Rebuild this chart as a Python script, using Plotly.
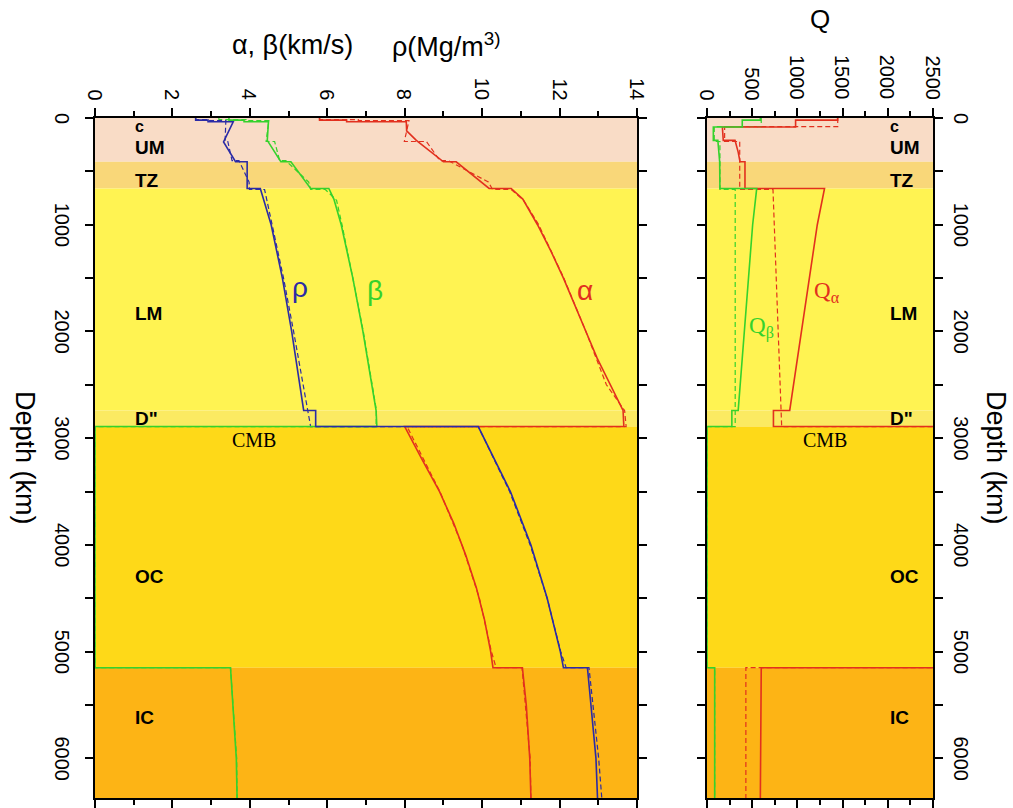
import plotly.graph_objects as go

# ---------------- data ----------------
# Left panel: velocities (km/s) and density (Mg/m^3) vs depth (km)
vp_depth = [0, 20, 20, 35, 35, 120, 210, 310, 410, 410, 560, 660, 660, 760, 1000, 1250, 1500, 1750, 2000, 2250,
            2500, 2740, 2891, 2891, 3200, 3500, 3800, 4100, 4400, 4700, 5000, 5150, 5150, 5500, 6000, 6371]
vp_model = [5.8, 5.8, 6.5, 6.5, 8.04, 8.05, 8.30, 8.66, 9.0, 9.33, 9.84, 10.18, 10.75, 11.05, 11.43, 11.78, 12.10,
            12.40, 12.68, 12.97, 13.32, 13.64, 13.66, 8.0, 8.45, 8.90, 9.27, 9.58, 9.85, 10.06, 10.22, 10.28,
            11.04, 11.14, 11.23, 11.26]
vp_prem_depth = [0, 15, 15, 24.4, 24.4, 80, 220, 220, 400, 400, 600, 670, 670, 771, 1000, 1500, 2000, 2500, 2741,
                 2891, 2891, 3500, 4000, 4500, 5000, 5150, 5150, 6000, 6371]
vp_prem = [5.8, 5.8, 6.8, 6.8, 8.11, 8.08, 7.99, 8.56, 8.91, 9.13, 10.16, 10.27, 10.75, 11.07, 11.46, 12.11, 12.68,
           13.21, 13.68, 13.72, 8.06, 8.91, 9.48, 9.93, 10.24, 10.36, 11.03, 11.24, 11.26]

vs_depth = [0, 20, 20, 35, 35, 120, 210, 410, 410, 660, 660, 760, 1000, 1500, 2000, 2500, 2740, 2891, 2891, 5150,
            5150, 6000, 6371]
vs_model = [3.46, 3.46, 3.85, 3.85, 4.48, 4.47, 4.45, 4.80, 5.06, 5.57, 6.04, 6.17, 6.36, 6.66, 6.92, 7.15, 7.26,
            7.28, 0.0, 0.0, 3.50, 3.65, 3.67]
vs_prem_depth = [0, 15, 15, 24.4, 24.4, 80, 220, 220, 400, 400, 600, 670, 670, 771, 1000, 1500, 2000, 2500, 2741,
                 2891, 2891, 5150, 5150, 6000, 6371]
vs_prem = [3.2, 3.2, 3.9, 3.9, 4.49, 4.47, 4.42, 4.64, 4.77, 4.93, 5.52, 5.57, 5.95, 6.24, 6.38, 6.66, 6.93, 7.16,
           7.27, 7.26, 0.0, 0.0, 3.50, 3.66, 3.67]

rho_depth = [0, 20, 20, 35, 35, 225, 410, 410, 660, 660, 1000, 1500, 2000, 2500, 2740, 2740, 2891, 2891, 3500,
             4000, 4500, 5000, 5150, 5150, 6000, 6371]
rho_model = [2.60, 2.60, 2.92, 2.92, 3.57, 3.32, 3.63, 3.93, 3.93, 4.27, 4.55, 4.84, 5.08, 5.30, 5.39, 5.70, 5.70,
             9.90, 10.73, 11.26, 11.68, 12.02, 12.10, 12.72, 12.94, 12.98]
rho_prem_depth = [0, 15, 15, 24.4, 24.4, 80, 220, 220, 400, 400, 600, 670, 670, 771, 1000, 1500, 2000, 2500, 2741,
                  2891, 2891, 3500, 4000, 4500, 5000, 5150, 5150, 6000, 6371]
rho_prem = [2.6, 2.6, 2.9, 2.9, 3.38, 3.37, 3.36, 3.43, 3.54, 3.72, 3.98, 3.99, 4.38, 4.44, 4.58, 4.87, 5.13, 5.38,
            5.49, 5.57, 9.90, 10.71, 11.24, 11.68, 12.03, 12.17, 12.76, 13.01, 13.09]

# Right panel: attenuation Q vs depth (km)
qa_depth = [0, 20, 20, 85, 85, 210, 210, 320, 410, 410, 660, 660, 1000, 2740, 2740, 2891, 2891, 5150, 5150, 6371]
qa_model = [1445, 1445, 980, 980, 170, 180, 310, 345, 365, 420, 420, 1300, 1220, 915, 735, 735, 57823, 57823,
            600, 590]
qa_prem_depth = [0, 80, 80, 220, 220, 670, 670, 2891, 2891, 5150, 5150, 6371]
qa_prem = [1446, 1446, 195, 195, 362, 362, 730, 826, 57823, 57823, 430, 430]

qb_depth = [0, 20, 20, 85, 85, 210, 210, 410, 410, 660, 660, 1000, 2740, 2740, 2891, 2891, 5150, 5150, 6371]
qb_model = [590, 590, 390, 390, 70, 70, 120, 135, 140, 143, 550, 505, 345, 275, 275, 0, 0, 85, 85]
qb_prem_depth = [0, 80, 80, 220, 220, 670, 670, 2891, 2891, 5150, 5150, 6371]
qb_prem = [600, 600, 80, 80, 143, 143, 312, 312, 0, 0, 84.6, 84.6]

# Tick labels
vel_ticks = [0, 2, 4, 6, 8, 10, 12, 14]
q_ticks = [0, 500, 1000, 1500, 2000, 2500]
depth_ticks = [0, 1000, 2000, 3000, 4000, 5000, 6000]

# Earth layers
band_top = [0, 410, 660, 2740, 2891, 5150]
band_bottom = [410, 660, 2740, 2891, 5150, 6371]
band_color = ["#F9DCC6", "#F9D779", "#FFF352", "#FBEA62", "#FED918", "#FDB415"]
layer_names = ["c", "UM", "TZ", "LM", 'D"', "OC", "IC"]
layer_depths = [75, 281, 581, 1828, 2815, 4300, 5614]

# ---------------- layout geometry ----------------
W, H = 1013, 808
LX0, LX1, RX0, RX1 = 95, 637, 707, 933
YT, YB = 118, 798
FONT = "Liberation Sans"
SERIF = "Liberation Serif"
RED, GREEN, BLUE = "#E2301E", "#35D22C", "#2B2BA6"

fig = go.Figure()

def add_line(x, y, color, dash, ax):
    fig.add_trace(go.Scatter(
        x=x, y=y, mode="lines", showlegend=False, hoverinfo="skip",
        line=dict(color=color, width=1.6 if dash == "solid" else 1.2, dash=dash),
        xaxis="x" if ax == 1 else "x2", yaxis="y" if ax == 1 else "y2"))

DASH = "5px,3px"
add_line(vp_prem, vp_prem_depth, RED, DASH, 1)
add_line(vs_prem, vs_prem_depth, GREEN, DASH, 1)
add_line(rho_prem, rho_prem_depth, BLUE, DASH, 1)
add_line(vp_model, vp_depth, RED, "solid", 1)
add_line(vs_model, vs_depth, GREEN, "solid", 1)
add_line(rho_model, rho_depth, BLUE, "solid", 1)

add_line(qa_prem, qa_prem_depth, RED, DASH, 2)
add_line(qb_prem, qb_prem_depth, GREEN, DASH, 2)
add_line(qa_model, qa_depth, RED, "solid", 2)
add_line(qb_model, qb_depth, GREEN, "solid", 2)

shapes = []
for xr, yr in (("x domain", "y"), ("x2 domain", "y2")):
    for t, b, c in zip(band_top, band_bottom, band_color):
        shapes.append(dict(type="rect", xref=xr, yref=yr, x0=0, x1=1, y0=t, y1=b,
                           fillcolor=c, line=dict(width=0), layer="below"))

ydom = [(H - YB) / H, (H - YT) / H]

common_x = dict(side="top", showline=True, linecolor="black", linewidth=2, mirror="ticks",
                ticks="outside", ticklen=8, tickwidth=1.5, tickcolor="black", showticklabels=False,
                automargin=False, showgrid=False, zeroline=False, fixedrange=True)
common_y = dict(showline=True, linecolor="black", linewidth=2, mirror="ticks",
                ticks="outside", ticklen=8, tickwidth=1.5, tickcolor="black", showticklabels=False,
                automargin=False, showgrid=False, zeroline=False, range=[6371, 0],
                tick0=0, dtick=1000, fixedrange=True,
                minor=dict(dtick=500, ticks="outside", ticklen=8, tickwidth=1.5, tickcolor="black"))

fig.update_layout(
    width=W, height=H, margin=dict(l=0, r=0, t=0, b=0, autoexpand=False),
    paper_bgcolor="white", plot_bgcolor="white",
    xaxis=dict(common_x, domain=[LX0 / W, LX1 / W], range=[0, 14], tick0=0, dtick=2, anchor="y",
               minor=dict(dtick=1, ticks="outside", ticklen=5, tickwidth=1.5, tickcolor="black")),
    yaxis=dict(common_y, domain=ydom, anchor="x", side="left"),
    xaxis2=dict(common_x, domain=[RX0 / W, RX1 / W], range=[0, 2500], tick0=0, dtick=500, anchor="y2",
                minor=dict(dtick=250, ticks="outside", ticklen=5, tickwidth=1.5, tickcolor="black")),
    yaxis2=dict(common_y, domain=ydom, anchor="x2", side="right"),
    shapes=shapes,
)

ann = []
def paper_text(text, px, py, size, xanchor="center", yanchor="middle", angle=0, family=FONT):
    ann.append(dict(text=text, x=px / W, y=1 - py / H, xref="paper", yref="paper", showarrow=False,
                    xanchor=xanchor, yanchor=yanchor, textangle=angle,
                    font=dict(family=family, size=size, color="black")))

paper_text("α, β(km/s)", 230, 45, 27, xanchor="left")
paper_text("ρ(Mg/m<sup>3)</sup>", 390, 45, 27, xanchor="left")
paper_text("Q", 820, 19, 26)
paper_text("Depth (km)", 25, 458, 27, angle=90)
paper_text("Depth (km)", 996, 458, 27, angle=90)

TICKFONT = dict(family=FONT, size=20, color="black")
# rotated tick labels
for v in vel_ticks:
    ann.append(dict(text=str(v), x=v, xref="x", y=1 - 102 / H, yref="paper", showarrow=False,
                    textangle=90, xanchor="center", yanchor="bottom", font=TICKFONT))
for v in q_ticks:
    ann.append(dict(text=str(v), x=v, xref="x2", y=1 - 102 / H, yref="paper", showarrow=False,
                    textangle=90, xanchor="center", yanchor="bottom", font=TICKFONT))
for d in depth_ticks:
    ann.append(dict(text=str(d), x=75 / W, xref="paper", y=d, yref="y", showarrow=False,
                    textangle=90, xanchor="right", yanchor="middle", font=TICKFONT))
    ann.append(dict(text=str(d), x=948 / W, xref="paper", y=d, yref="y2", showarrow=False,
                    textangle=90, xanchor="left", yanchor="middle", font=TICKFONT))

def data_text(text, x, y, ax, size, color="black", family=FONT, xanchor="left", bold=False):
    if bold:
        text = "<b>" + text + "</b>"
    ann.append(dict(text=text, x=x, y=y, xref="x" if ax == 1 else "x2", yref="y" if ax == 1 else "y2",
                    showarrow=False, xanchor=xanchor, yanchor="middle",
                    font=dict(family=family, size=size, color=color)))

for name, d in zip(layer_names, layer_depths):
    size = 16 if name == "c" else 19
    data_text(name, 0.98, d, 1, size, bold=True)
    data_text(name, 2000, d, 2, size, bold=True)

data_text("CMB", 4.1, 3018, 1, 20, family=SERIF, xanchor="center")
data_text("CMB", 1305, 3018, 2, 20, family=SERIF, xanchor="center")

data_text("α", 12.66, 1612, 1, 28, color=RED, xanchor="center")
data_text("β", 7.23, 1612, 1, 28, color=GREEN, xanchor="center")
data_text("ρ", 5.30, 1584, 1, 28, color=BLUE, xanchor="center")

data_text("Q<sub>α</sub>", 1327, 1631, 2, 23, color=RED, family=SERIF, xanchor="center")
data_text("Q<sub>β</sub>", 608, 1959, 2, 23, color=GREEN, family=SERIF, xanchor="center")

fig.update_layout(annotations=ann)
fig.write_html("out.html")
